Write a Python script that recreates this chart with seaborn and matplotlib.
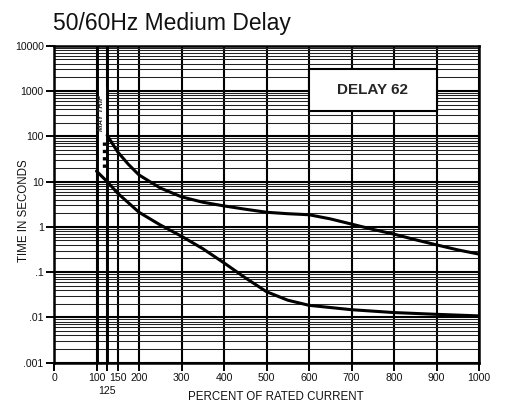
import matplotlib
matplotlib.use("Agg")
import matplotlib.pyplot as plt
import seaborn as sns
from matplotlib.ticker import LogLocator, FixedLocator, NullFormatter
from matplotlib.patches import Rectangle

# Time-current characteristic: percent of rated current vs. time (seconds)
upper_pct = [125, 150, 175, 200, 250, 300, 350, 400, 450, 500, 550, 600,
             650, 700, 750, 800, 850, 900, 950, 1000]
upper_sec = [105, 45, 24, 14, 7.2, 4.6, 3.5, 2.9, 2.45, 2.1, 1.95, 1.85,
             1.5, 1.15, 0.88, 0.69, 0.52, 0.40, 0.31, 0.25]
lower_pct = [100, 125, 150, 175, 200, 250, 300, 350, 400, 450, 500, 550,
             600, 700, 800, 900, 1000]
lower_sec = [17, 10, 5.5, 3.4, 2.1, 1.1, 0.62, 0.33, 0.16, 0.075, 0.037,
             0.024, 0.0185, 0.0148, 0.0128, 0.0117, 0.0108]

x_ticks = [0, 100, 125, 150, 200, 300, 400, 500, 600, 700, 800, 900, 1000]
x_tick_labels = ["0", "100", "125", "150", "200", "300", "400", "500",
                 "600", "700", "800", "900", "1000"]
y_ticks = [0.001, 0.01, 0.1, 1, 10, 100, 1000, 10000]
y_tick_labels = [".001", ".01", ".1", "1", "10", "100", "1000", "10000"]

# "May trip" band between 100% and 125%
band_pct = [100, 125]
band_top = 1250
dotted_pct = 118
dotted_sec = [75, 19]

# Label box
box_pct = (600, 900)
box_sec = (360, 3000)
box_text = "DELAY 62"

sns.set_style("ticks")
plt.rcParams["font.family"] = ["Liberation Sans", "DejaVu Sans"]

fig = plt.figure(figsize=(5.11, 4.05), dpi=100)
ax = fig.add_axes([54 / 511, 1 - 362.7 / 405, 425 / 511, 317 / 405])

ax.set_yscale("log")
ax.set_xlim(0, 1000)
ax.set_ylim(0.001, 10000)
ax.set_axisbelow(True)

ax.xaxis.set_major_locator(FixedLocator(x_ticks))
ax.set_xticklabels(x_tick_labels)
ax.yaxis.set_major_locator(FixedLocator(y_ticks))
ax.set_yticklabels(y_tick_labels)
ax.yaxis.set_minor_locator(LogLocator(base=10, subs=range(2, 10), numticks=20))
ax.yaxis.set_minor_formatter(NullFormatter())

ax.tick_params(axis="both", which="major", length=6, width=1.4,
               color="black", labelsize=7.6, pad=1.5, labelcolor="#111111")
ax.tick_params(axis="y", which="minor", length=0)

# the 125% label sits on a second row below its neighbours
ax.xaxis.get_major_ticks()[x_ticks.index(125)].set_pad(10.5)

ax.grid(which="major", axis="both", color="black", lw=1.5)
ax.grid(which="minor", axis="y", color="#222222", lw=0.75)

for s in ax.spines.values():
    s.set_linewidth(1.8)
    s.set_color("black")

# white "may trip" band above the minimum curve
ax.fill_between(band_pct, lower_sec[:2], band_top, color="white", zorder=1.5,
                lw=0)
for p in band_pct:
    ax.axvline(p, color="black", lw=2.1, zorder=2)
ax.plot([dotted_pct, dotted_pct], dotted_sec, color="black", lw=2.4,
        ls=(0, (1, 1.2)), zorder=3)
ax.text(sum(band_pct) / 2, 330, "MAY TRIP", rotation=90, ha="center",
        va="center", fontsize=5.6, fontweight="bold", fontstyle="italic",
        zorder=4)

# curves
sns.lineplot(x=upper_pct, y=upper_sec, ax=ax, color="black", lw=2.2,
             sort=False, estimator=None, zorder=3)
sns.lineplot(x=lower_pct, y=lower_sec, ax=ax, color="black", lw=2.2,
             sort=False, estimator=None, zorder=3)

# label box
ax.add_patch(Rectangle((box_pct[0], box_sec[0]), box_pct[1] - box_pct[0],
                       box_sec[1] - box_sec[0], facecolor="white",
                       edgecolor="black", lw=1.5, zorder=3))
ax.text(sum(box_pct) / 2, (box_sec[0] * box_sec[1]) ** 0.5, box_text,
        ha="center", va="center", fontsize=11, fontweight="bold", zorder=4)

ax.set_xlabel("PERCENT OF RATED CURRENT", fontsize=8.3, color="#111111")
ax.xaxis.set_label_coords(0.522, -0.09)
ax.set_ylabel("TIME IN SECONDS", fontsize=8.3, color="#111111")
ax.yaxis.set_label_coords(-0.057, 0.48)

fig.text(53 / 511, 1 - 30 / 405, "50/60Hz Medium Delay", fontsize=16.5,
         ha="left", va="baseline", color="#111111")

fig.savefig("out.png", dpi=100, facecolor="white")
